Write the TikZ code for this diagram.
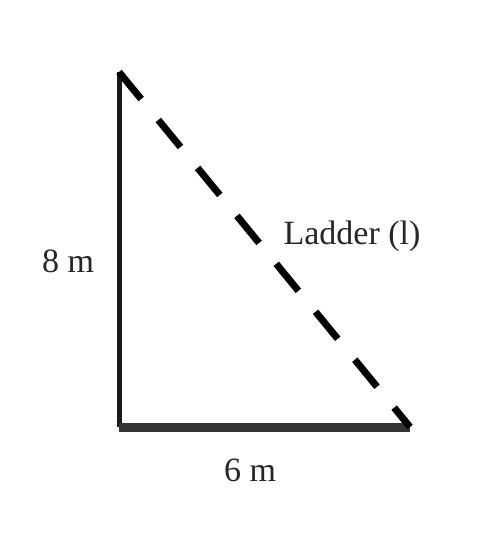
\documentclass[tikz,border=0pt]{standalone}
\usepackage{fontspec}
\setmainfont{Liberation Serif}
\begin{document}
\begin{tikzpicture}[x=1pt,y=-1pt,
  lbl/.style={inner sep=0pt,font=\fontsize{34}{40}\selectfont,text=black!85},
  wall/.style={line width=5pt,black!90},
  ground/.style={line width=9pt,black!80},
  ladder/.style={line width=7pt,black,dash pattern=on 35pt off 27pt}]
\useasboundingbox (0,0) rectangle (481,537);
\coordinate (top) at (119,72);
\coordinate (corner) at (119,427);
\coordinate (foot) at (410,427);
\draw[wall] (top) -- (corner);
\draw[ground] (corner) -- (foot);
\draw[ladder] (top) -- (foot);
\node[lbl] (h) at (68,261) {8 m};
\node[lbl] (l) at (352,236) {Ladder (l)};
\node[lbl] (b) at (250,470) {6 m};
\end{tikzpicture}
\end{document}
